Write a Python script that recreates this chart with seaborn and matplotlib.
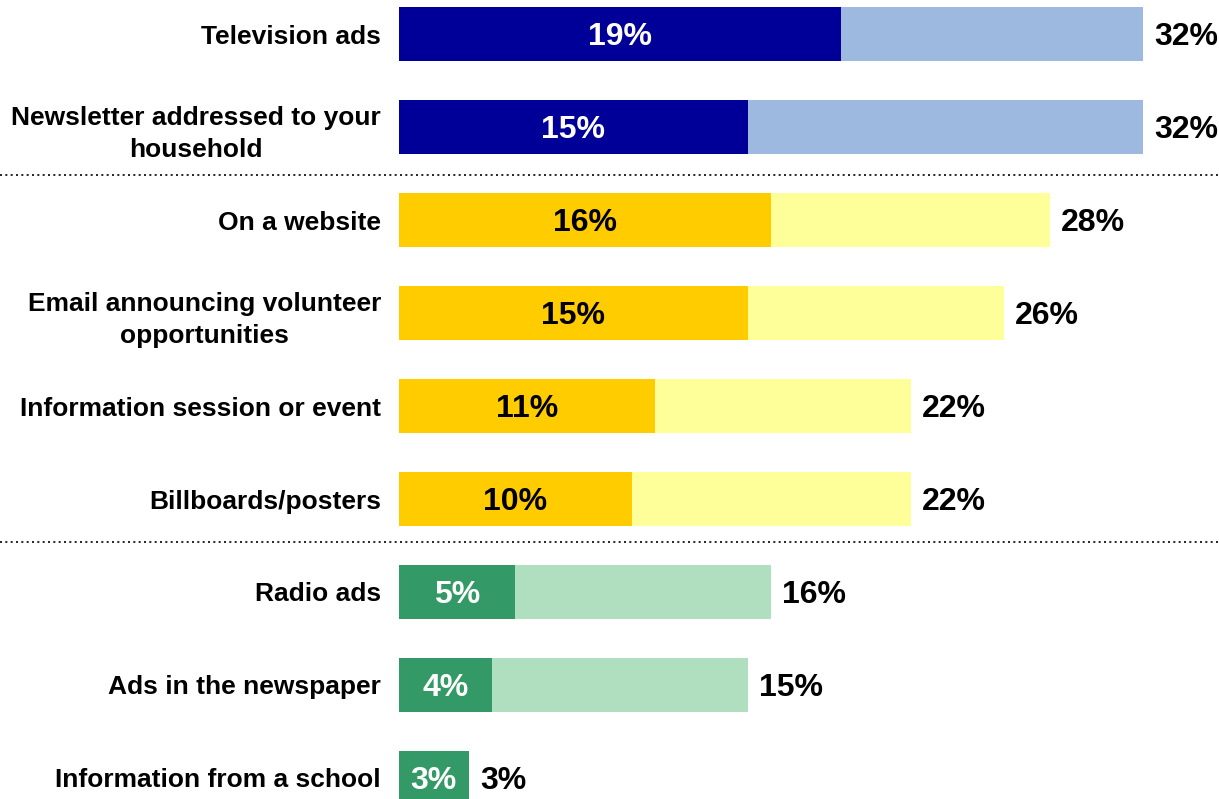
import matplotlib
matplotlib.use("Agg")
import matplotlib.pyplot as plt
from matplotlib.lines import Line2D
import seaborn as sns
import pandas as pd

categories = [
    "Television ads",
    "Newsletter addressed to your\nhousehold",
    "On a website",
    "Email announcing volunteer\nopportunities",
    "Information session or event",
    "Billboards/posters",
    "Radio ads",
    "Ads in the newspaper",
    "Information from a school",
]
first_choice = [19, 15, 16, 15, 11, 10, 5, 4, 3]
total_share = [32, 32, 28, 26, 22, 22, 16, 15, 3]
groups = ["blue", "blue", "gold", "gold", "gold", "gold", "green", "green", "green"]

dark_colors = {"blue": "#000099", "gold": "#FFCC00", "green": "#339966"}
light_colors = {"blue": "#9DB9DF", "gold": "#FFFF99", "green": "#B0DFC0"}
inner_text = {"blue": "white", "gold": "black", "green": "white"}

df = pd.DataFrame({
    "category": categories,
    "first": first_choice,
    "total": total_share,
    "group": groups,
})

sns.set_style("white")
plt.rcParams["font.family"] = ["Liberation Sans", "DejaVu Sans"]
plt.rcParams["font.weight"] = "bold"

W, H = 1219, 799
fig = plt.figure(figsize=(W / 100, H / 100), dpi=100)
ax = fig.add_axes([399 / W, 0, (W - 399) / W, 1])

bar_h = 0.58
sns.barplot(data=df, x="total", y="category", hue="category",
            palette=[light_colors[g] for g in groups], legend=False,
            width=bar_h, orient="h", ax=ax, saturation=1, linewidth=0)
sns.barplot(data=df, x="first", y="category", hue="category",
            palette=[dark_colors[g] for g in groups], legend=False,
            width=bar_h, orient="h", ax=ax, saturation=1, linewidth=0)

ax.set_xlim(0, (W - 399) / 23.25)
ax.set_ylim(8.226, -0.366)
ax.set_xlabel("")
ax.set_ylabel("")
ax.set_xticks([])
for s in ax.spines.values():
    s.set_visible(False)

ax.tick_params(axis="y", length=0, pad=13, colors="black")
ax.set_yticks(range(len(categories)))
ax.set_yticklabels(categories, fontsize=19, fontweight="bold", color="black")
for lab in ax.get_yticklabels():
    lab.set_multialignment("center")
    lab.set_linespacing(1.45)

pct_size = 23
drop = -0.716 * pct_size / 2  # puts the digit block's middle on the bar's middle
for i, (f, t, g) in enumerate(zip(first_choice, total_share, groups)):
    ax.annotate(f"{f}%", xy=(f / 2, i), xytext=(0, drop),
                textcoords="offset points", ha="center", va="baseline",
                fontsize=pct_size, fontweight="bold", color=inner_text[g])
    ax.annotate(f"{t}%", xy=(t, i), xytext=(8, drop),
                textcoords="offset points", ha="left", va="baseline",
                fontsize=pct_size, fontweight="bold", color="black")

# dotted separators between the three groups
for y_px in (175, 541.5):
    yf = 1 - y_px / H
    fig.add_artist(Line2D([0, 1], [yf, yf], transform=fig.transFigure,
                          color="black", lw=1.2, linestyle=(0, (1.2, 2.0))))

fig.savefig("out.png", dpi=100)
